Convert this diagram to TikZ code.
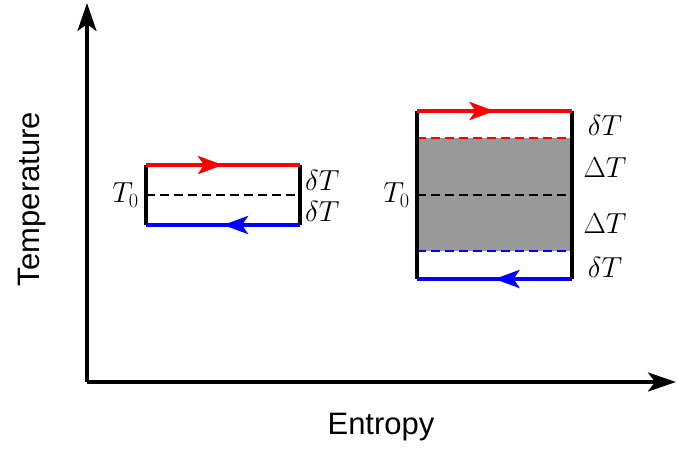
\documentclass[tikz,border=0pt]{standalone}
\usepackage{fix-cm}
\usepackage{fontspec}
\setsansfont{Liberation Sans}
\usetikzlibrary{arrows.meta, decorations.markings}

\definecolor{band}{RGB}{153,153,153}

\begin{document}
\begin{tikzpicture}[
  x=1pt, y=-1pt,
  axis/.style={line width=3.5pt, -{Stealth[length=28pt, width=19pt, inset=7pt]}},
  wall/.style={line width=4pt},
  level/.style={line width=2.5pt, dash pattern=on 9pt off 5pt},
  hot/.style={red, line width=4pt, postaction={decorate},
    decoration={markings, mark=at position 0.5 with {\arrow{Stealth[length=25pt, width=18pt, inset=6pt]}}}},
  cold/.style={blue, line width=4pt, postaction={decorate},
    decoration={markings, mark=at position 0.5 with {\arrow{Stealth[length=25pt, width=18pt, inset=6pt]}}}},
  lbl/.style={inner sep=1pt, font=\fontsize{29}{34}\selectfont},
  title/.style={font=\sffamily\fontsize{31}{37}\selectfont}
]
\useasboundingbox (0,0) rectangle (678,450);

% Axes
\coordinate (origin) at (87,382);
\coordinate (ytop) at (87,3);
\coordinate (xend) at (676,382);
\draw [axis] (origin) -- (ytop);
\draw [axis] (origin) -- (xend);
\node (ylabel) [title, rotate=90] at (32,199) {Temperature};
\node (xlabel) [title] at (381,427) {Entropy};

% Small cycle
\coordinate (la) at (146,165); \coordinate (lb) at (300,165);
\coordinate (lc) at (146,195); \coordinate (ld) at (300,195);
\coordinate (le) at (146,225); \coordinate (lf) at (300,225);
\draw [level] (lc) -- (ld);
\draw [wall] (la) -- (le);
\draw [wall] (lb) -- (lf);
\draw [hot] (la) -- (lb);
\draw [cold] (lf) -- (le);
\node (lt0) [lbl, anchor=east] at (140,195) {$T_0$};
\node (ldtup) [lbl, anchor=west] at (304,180) {$\delta T$};
\node (ldtdn) [lbl, anchor=west] at (304,211) {$\delta T$};

% Large cycle
\coordinate (ra) at (417,111); \coordinate (rb) at (572,111);
\coordinate (rc) at (417,138); \coordinate (rd) at (572,138);
\coordinate (rm) at (417,195); \coordinate (rn) at (572,195);
\coordinate (re) at (417,251); \coordinate (rf) at (572,251);
\coordinate (rg) at (417,279); \coordinate (rh) at (572,279);
\fill [band] (rc) rectangle (rf);
\draw [level, red] (rc) -- (rd);
\draw [level] (rm) -- (rn);
\draw [level, blue] (re) -- (rf);
\draw [wall] (ra) -- (rg);
\draw [wall] (rb) -- (rh);
\draw [hot] (ra) -- (rb);
\draw [cold] (rh) -- (rg);
\node (rt0) [lbl, anchor=east] at (411,195) {$T_0$};
\node (rdtup) [lbl] at (605,125) {$\delta T$};
\node (rDtup) [lbl] at (605,168) {$\Delta T$};
\node (rDtdn) [lbl] at (605,224) {$\Delta T$};
\node (rdtdn) [lbl] at (605,267) {$\delta T$};

\end{tikzpicture}
\end{document}
